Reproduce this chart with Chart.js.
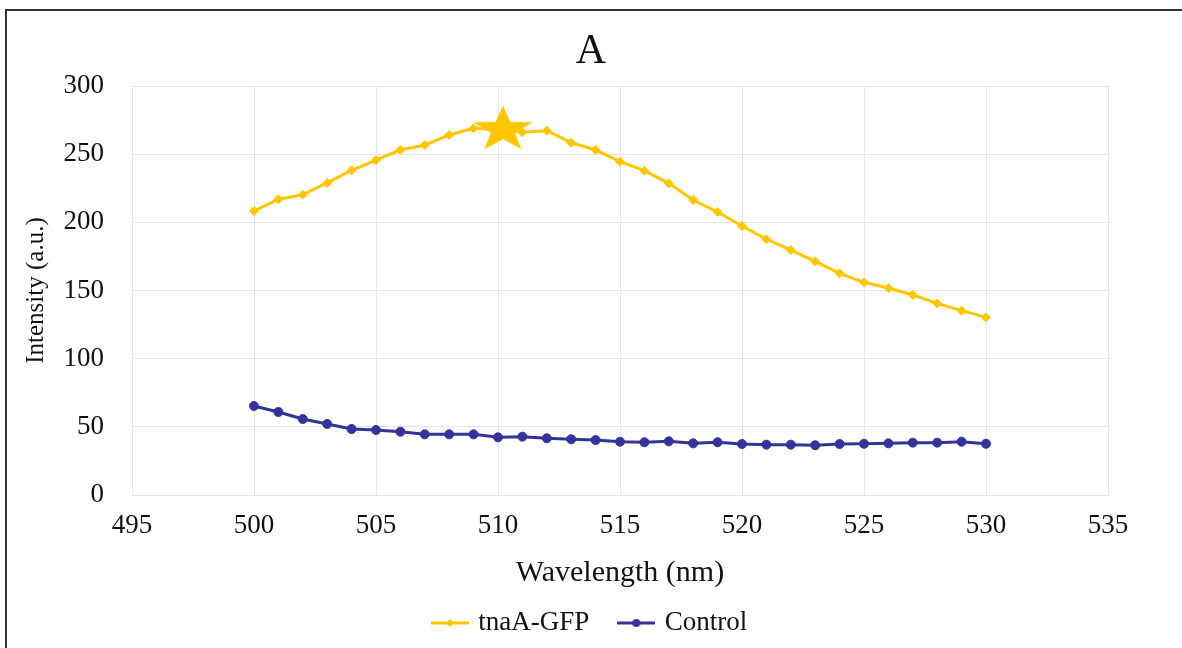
<!DOCTYPE html>
<html>
<head>
<meta charset="utf-8">
<title>Intensity vs wavelength</title>
<script src="https://cdn.jsdelivr.net/npm/chart.js@4.4.1/dist/chart.umd.min.js"></script>
<style>
  html, body { margin: 0; padding: 0; background: #fff; }
  #wrap { position: relative; width: 1182px; height: 648px; overflow: hidden; }
  #frame { position: absolute; left: 5px; top: 9px; width: 1200px; height: 700px;
           border-top: 2px solid #333; border-left: 2px solid #333; }
  #chart { position: absolute; left: 0; top: 0; }
</style>
</head>
<body>
<div id="wrap">
  <div id="frame"></div>
  <canvas id="chart" width="1182" height="648"></canvas>
</div>
<script>
  // values
  var wavelengths = [500, 501, 502, 503, 504, 505, 506, 507, 508, 509, 510,
    511, 512, 513, 514, 515, 516, 517, 518, 519, 520,
    521, 522, 523, 524, 525, 526, 527, 528, 529, 530];
  var gfpValues = [208.3, 216.9, 220.3, 228.9, 238.2, 245.7, 253.1, 256.7, 264.1, 269.0, 268.0,
    266.0, 267.2, 258.4, 253.1, 244.5, 237.9, 228.6, 216.4, 207.6, 197.3,
    187.6, 179.7, 171.4, 162.6, 156.0, 151.8, 146.7, 140.6, 135.2, 130.3];
  var controlValues = [65.3, 60.9, 55.7, 52.1, 48.4, 47.7, 46.4, 44.5, 44.5, 44.5, 42.3,
    42.8, 41.6, 40.9, 40.3, 39.1, 38.7, 39.4, 37.9, 38.7, 37.4,
    36.9, 36.9, 36.5, 37.4, 37.6, 37.9, 38.4, 38.4, 39.1, 37.6];
  var peakX = [510.2];
  var peakY = [268];
  var xTickValues = [495, 500, 505, 510, 515, 520, 525, 530, 535];
  var yTickValues = [0, 50, 100, 150, 200, 250, 300];

  var GOLD = "#ffc600";
  var BLUE = "#33339a";
  var GRID = "#e6e6e6";
  var INK = "#111";
  var SERIF = "'Liberation Serif', 'Times New Roman', serif";

  function toPoints(xs, ys) {
    return xs.map(function (x, i) { return { x: x, y: ys[i] }; });
  }

  function starImage(w, h, color) {
    var c = document.createElement("canvas");
    c.width = w;
    c.height = h;
    var g = c.getContext("2d");
    var r = h / 2;
    var sx = w / (2 * r * Math.sin(2 * Math.PI / 5));
    g.fillStyle = color;
    g.beginPath();
    for (var i = 0; i < 10; i++) {
      var rad = i % 2 ? r * 0.4 : r;
      var a = -Math.PI / 2 + i * Math.PI / 5;
      var px = w / 2 + Math.cos(a) * rad * sx;
      var py = h / 2 + Math.sin(a) * rad;
      if (i === 0) g.moveTo(px, py); else g.lineTo(px, py);
    }
    g.closePath();
    g.fill();
    return c;
  }

  function legendImage(color, shape) {
    var c = document.createElement("canvas");
    c.width = 38;
    c.height = 12;
    var g = c.getContext("2d");
    g.strokeStyle = color;
    g.fillStyle = color;
    g.lineWidth = 3;
    g.beginPath();
    g.moveTo(0, 6);
    g.lineTo(38, 6);
    g.stroke();
    g.beginPath();
    if (shape === "diamond") {
      g.moveTo(19, 2); g.lineTo(23, 6); g.lineTo(19, 10); g.lineTo(15, 6);
    } else {
      g.arc(19, 6, 4, 0, Math.PI * 2);
    }
    g.closePath();
    g.fill();
    return c;
  }

  function fixTicks(values) {
    return function (scale) {
      scale.ticks = values.map(function (v) { return { value: v }; });
    };
  }

  new Chart(document.getElementById("chart"), {
    type: "line",
    data: {
      datasets: [
        {
          label: "tnaA-GFP",
          data: toPoints(wavelengths, gfpValues),
          borderColor: GOLD,
          backgroundColor: GOLD,
          borderWidth: 3,
          pointStyle: "rectRot",
          pointRadius: 4.5,
          pointBorderWidth: 1,
          tension: 0,
          legendImage: legendImage(GOLD, "diamond"),
        },
        {
          label: "Control",
          data: toPoints(wavelengths, controlValues),
          borderColor: BLUE,
          backgroundColor: BLUE,
          borderWidth: 3,
          pointStyle: "circle",
          pointRadius: 4.5,
          pointBorderWidth: 1,
          tension: 0,
          legendImage: legendImage(BLUE, "circle"),
        },
        {
          label: "peak",
          data: toPoints(peakX, peakY),
          showLine: false,
          pointStyle: starImage(60, 48, GOLD),
          pointRadius: 20,
          order: -1,
        },
      ],
    },
    options: {
      responsive: false,
      animation: false,
      events: [],
      layout: { padding: { left: 8, right: 8, top: 0, bottom: 1.5 } },
      plugins: {
        tooltip: { enabled: false },
        title: {
          display: true,
          text: "A",
          color: INK,
          font: { family: SERIF, size: 42, weight: "normal", lineHeight: 1.2 },
          padding: { top: 27, bottom: 8.6 },
        },
        legend: {
          position: "bottom",
          labels: {
            usePointStyle: true,
            pointStyleWidth: 30,
            padding: 32,
            color: INK,
            font: { family: SERIF, size: 27 },
            generateLabels: function (chart) {
              var items = [];
              chart.data.datasets.forEach(function (ds, i) {
                if (!ds.legendImage) return;
                items.push({
                  text: ds.label,
                  pointStyle: ds.legendImage,
                  fillStyle: ds.borderColor,
                  strokeStyle: ds.borderColor,
                  lineWidth: 0,
                  fontColor: INK,
                  hidden: false,
                  datasetIndex: i,
                });
              });
              return items;
            },
          },
        },
      },
      scales: {
        x: {
          type: "linear",
          min: 495,
          max: 535,
          afterBuildTicks: fixTicks(xTickValues),
          afterFit: function (s) { s.height = 82.5; },
          grid: { color: GRID, drawTicks: false },
          border: { color: GRID },
          ticks: { color: INK, padding: 15, font: { family: SERIF, size: 27 } },
          title: {
            display: true,
            text: "Wavelength (nm)",
            color: INK,
            font: { family: SERIF, size: 30, lineHeight: 0.3 },
            padding: { top: 0, bottom: 0 },
          },
        },
        y: {
          min: 0,
          max: 300,
          afterBuildTicks: fixTicks(yTickValues),
          afterFit: function (s) { s.width = 124; },
          grid: { color: GRID, drawTicks: false },
          border: { color: GRID },
          ticks: { color: INK, padding: 28, font: { family: SERIF, size: 27 } },
          title: {
            display: true,
            text: "Intensity (a.u.)",
            color: INK,
            font: { family: SERIF, size: 25, lineHeight: 1.2 },
            padding: { top: 13, bottom: 0 },
          },
        },
        yr: {
          position: "right",
          afterFit: function (s) { s.width = 66; },
          grid: { display: false },
          border: { display: false },
          ticks: { display: false },
        },
      },
    },
  });
</script>
</body>
</html>
